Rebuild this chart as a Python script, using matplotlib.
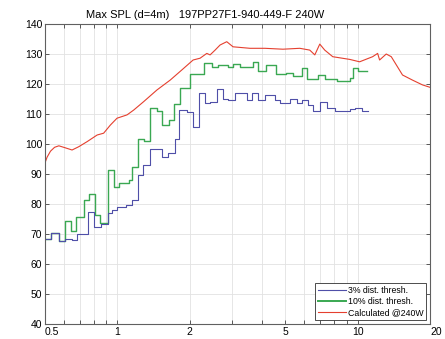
import matplotlib
matplotlib.use('Agg')
import matplotlib.pyplot as plt
from matplotlib.lines import Line2D

plt.rcParams['font.family'] = ['Liberation Sans', 'DejaVu Sans']

# 3% distortion threshold (step edges in kHz, level in dB)
f_3pct = [0.50, 0.532, 0.574, 0.608, 0.650, 0.682, 0.754, 0.803, 0.856, 0.912,
          0.953, 1.0, 1.087, 1.154, 1.216, 1.282, 1.370, 1.537, 1.627, 1.741,
          1.808, 1.952, 2.067, 2.189, 2.318, 2.432, 2.600, 2.754, 2.888, 3.088,
          3.462, 3.633, 3.847, 4.113, 4.524, 4.746, 5.222, 5.583, 5.855, 6.201,
          6.505, 6.956, 7.436, 8.028, 9.266, 9.718, 10.39, 11.0]
spl_3pct = [68.2, 70.2, 67.8, 68.3, 68.0, 70.0, 77.4, 72.4, 73.3, 76.9,
            78.0, 78.9, 79.7, 81.3, 89.7, 93.0, 98.2, 95.8, 97.1, 101.6,
            111.2, 110.8, 105.7, 117.0, 113.6, 114.0, 118.2, 114.9, 114.6, 116.9,
            114.6, 117.0, 114.6, 116.3, 114.6, 113.6, 114.9, 113.6, 114.6, 113.0,
            111.1, 114.1, 111.9, 111.0, 111.6, 112.0, 111.0, 111.0]

# 10% distortion threshold
f_10pct = [0.50, 0.532, 0.574, 0.607, 0.642, 0.674, 0.725, 0.760, 0.805, 0.850,
           0.912, 0.965, 1.012, 1.114, 1.151, 1.214, 1.286, 1.370, 1.461, 1.533,
           1.633, 1.713, 1.826, 2.009, 2.296, 2.479, 2.625, 2.888, 3.030, 3.238,
           3.667, 3.847, 4.152, 4.568, 5.026, 5.374, 5.855, 6.144, 6.823, 7.295,
           8.183, 9.266, 9.535, 10.0, 10.9]
spl_10pct = [68.2, 70.2, 67.8, 74.3, 71.0, 75.6, 81.3, 83.2, 76.3, 73.6,
             91.3, 85.6, 86.9, 88.0, 92.4, 101.6, 101.0, 112.0, 110.9, 106.5,
             108.0, 113.5, 118.6, 123.3, 127.0, 125.8, 126.5, 125.8, 126.8, 125.6,
             127.3, 124.4, 126.2, 123.3, 123.8, 122.8, 125.4, 121.7, 123.0, 121.6,
             121.1, 122.0, 125.3, 124.3, 124.3]

# calculated max SPL @240W
f_calc = [0.50, 0.51, 0.527, 0.548, 0.571, 0.609, 0.648, 0.691, 0.749, 0.824, 0.877, 0.935,
          0.997, 1.097, 1.169, 1.286, 1.461, 1.659, 1.856, 2.067, 2.210, 2.356,
          2.432, 2.551, 2.676, 2.853, 3.030, 3.563, 4.113, 4.885, 5.744, 6.320,
          6.632, 6.956, 7.295, 7.876, 9.266, 10.19, 11.54, 12.11, 12.34, 13.15,
          13.80, 15.37, 16.91, 18.61, 20.0]
spl_calc = [93.7, 95.6, 97.6, 98.9, 99.4, 98.7, 98.0, 99.1, 100.8, 103.0, 103.6, 106.3,
            108.6, 109.7, 111.3, 114.1, 118.0, 121.3, 124.7, 128.0, 128.6, 130.2,
            129.7, 131.3, 133.0, 134.1, 132.4, 131.9, 131.9, 131.6, 131.9, 131.3,
            129.7, 133.3, 131.3, 129.1, 128.2, 127.4, 129.1, 130.2, 128.0, 130.0,
            129.1, 123.0, 121.3, 119.7, 118.9]

labels = ['3% dist. thresh.', '10% dist. thresh.', 'Calculated @240W']
colors = ['#4f4fa8', '#3aa852', '#e5402f']

fig = plt.figure(figsize=(4.45, 3.39), dpi=100)
ax = fig.add_axes([45/445, 15/339, 385/445, 300/339])

ax.step(f_10pct, spl_10pct, where='post', color=colors[1], lw=1.0)
ax.step(f_3pct, spl_3pct, where='post', color=colors[0], lw=0.8)
ax.plot(f_calc, spl_calc, color=colors[2], lw=0.8)

ax.set_xscale('log')
ax.set_xlim(0.5, 20)
ax.set_ylim(40, 140)

ax.set_xticks([0.5, 1, 2, 5, 10, 20])
ax.set_xticklabels(['0.5', '1', '2', '5', '10', '20'])
ax.set_xticks([0.6, 0.7, 0.8, 0.9, 3, 4, 6, 7, 8, 9], minor=True)
ax.set_xticklabels([], minor=True)
ax.set_yticks(range(40, 141, 10))

ax.grid(True, which='both', color='#e2e2e2', lw=0.6)
ax.set_axisbelow(True)
ax.tick_params(which='both', direction='in', top=True, right=True,
               length=3, width=0.6, color='#404040', labelsize=7.5, pad=2)
for s in ax.spines.values():
    s.set_color('#606060')
    s.set_linewidth(0.8)

ticks = ax.xaxis.get_major_ticks()
ticks[0].label1.set_horizontalalignment('left')
ticks[-1].label1.set_horizontalalignment('left')

ax.set_title('Max SPL (d=4m)   197PP27F1-940-449-F 240W', fontsize=8,
             x=0.415, pad=4)

handles = [Line2D([0], [0], color=colors[0], lw=0.8),
           Line2D([0], [0], color=colors[1], lw=1.4),
           Line2D([0], [0], color=colors[2], lw=0.8)]
leg = ax.legend(handles, labels, loc='lower right', fontsize=6.3,
                fancybox=False, framealpha=1, edgecolor='#303030',
                handlelength=3.2, handletextpad=0.2, labelspacing=0.25,
                borderpad=0.3, borderaxespad=0.45)
leg.get_frame().set_linewidth(0.6)

fig.savefig('out.png', dpi=100)
